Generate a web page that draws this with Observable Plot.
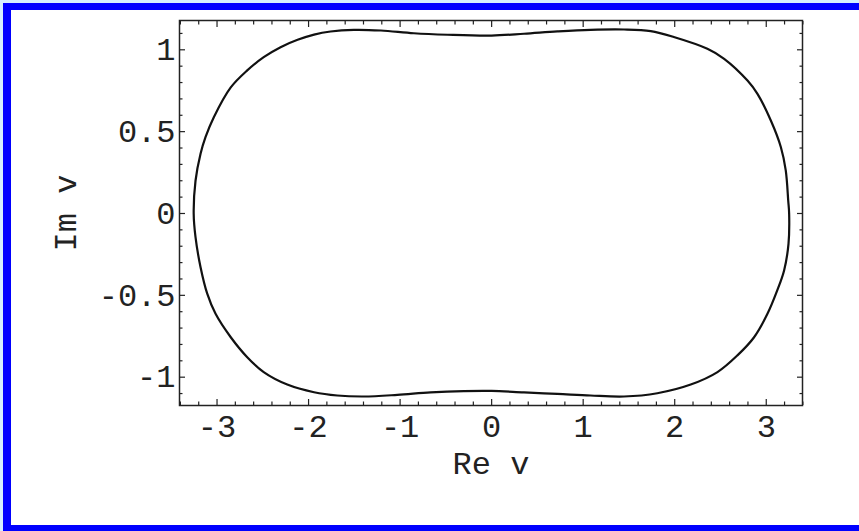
<!DOCTYPE html>
<html>
<head>
<meta charset="utf-8">
<script src="https://cdn.jsdelivr.net/npm/d3@7"></script>
<script src="https://cdn.jsdelivr.net/npm/@observablehq/plot@0.6"></script>
<style>
  html, body { margin: 0; padding: 0; overflow: hidden; background: #d6efff; width: 859px; height: 531px; }
  #border { position: absolute; left: 3px; top: 3px; width: 848px; height: 515px; background: #fff;
            border-left: 8px solid #0000ff; border-top: 7px solid #0000ff; border-bottom: 6px solid #0000ff; }
  #chart { position: absolute; left: 0; top: 0; }
</style>
</head>
<body>
<div id="border"></div>
<div id="chart"></div>
<script>
// Curve points (Re v, Im v), traced counter-clockwise from the right-hand extreme
const reV = [3.25, 3.24, 3.213, 3.16, 3.05, 2.904, 2.795, 2.54, 2.357, 1.99, 1.738, 1.446, 1.08, 0.718, 0.353, 0,
  -0.48, -0.85, -1.21, -1.505, -1.76, -1.94, -2.12, -2.306, -2.49, -2.67, -2.85, -3.035, -3.126, -3.18, -3.235, -3.255,
  -3.235, -3.18, -3.107, -3.016, -2.85, -2.67, -2.49, -2.233, -1.94, -1.686, -1.396, -1.03, -0.667, -0.303, 0,
  0.353, 0.718, 1.08, 1.446, 1.81, 2.175, 2.467, 2.685, 2.867, 3.013, 3.12, 3.195, 3.243];
const imV = [0, 0.079, 0.263, 0.405, 0.568, 0.731, 0.812, 0.945, 1.006, 1.078, 1.114, 1.124, 1.122, 1.112, 1.098, 1.087,
  1.092, 1.101, 1.118, 1.122, 1.112, 1.093, 1.061, 1.016, 0.955, 0.874, 0.77, 0.588, 0.466, 0.365, 0.2, 0,
  -0.145, -0.328, -0.49, -0.613, -0.756, -0.878, -0.969, -1.045, -1.092, -1.112, -1.118, -1.108, -1.093, -1.085, -1.084,
  -1.093, -1.102, -1.112, -1.118, -1.098, -1.045, -0.969, -0.867, -0.756, -0.613, -0.47, -0.348, -0.185];

const xMajorTicks = [-3, -2, -1, 0, 1, 2, 3];
const xMinorTicks = [-3.4, -3.2, -2.8, -2.6, -2.4, -2.2, -1.8, -1.6, -1.4, -1.2, -0.8, -0.6, -0.4, -0.2,
  0.2, 0.4, 0.6, 0.8, 1.2, 1.4, 1.6, 1.8, 2.2, 2.4, 2.6, 2.8, 3.2, 3.4];
const yMajorTicks = [-1, -0.5, 0, 0.5, 1];
const yMinorTicks = [-1.1, -0.9, -0.8, -0.7, -0.6, -0.4, -0.3, -0.2, -0.1, 0.1, 0.2, 0.3, 0.4, 0.6, 0.7, 0.8, 0.9, 1.1];
const xLabel = "Re v";
const yLabel = "Im v";

const points = reV.map((r, i) => ({re: r, im: imV[i]}));
const FONT = "'Liberation Mono', 'Courier New', monospace";
const FS = 32;
const INK = "#222";
const fmt = d => String(d);
const tickStyle = {text: null, label: null, stroke: INK, strokeWidth: 1.2};

const plot = Plot.plot({
  width: 859,
  height: 531,
  marginLeft: 179,
  marginRight: 57,
  marginTop: 20,
  marginBottom: 126,
  style: {background: "transparent", fontFamily: FONT, fontSize: FS + "px", color: INK},
  x: {domain: [-3.41, 3.396], axis: null},
  y: {domain: [-1.173, 1.179], axis: null},
  marks: [
    // tick marks, pointing inward on all four sides
    Plot.axisX(xMajorTicks, {anchor: "bottom", tickSize: -6, ...tickStyle}),
    Plot.axisX(xMinorTicks, {anchor: "bottom", tickSize: -3.5, ...tickStyle}),
    Plot.axisX(xMajorTicks, {anchor: "top", tickSize: -6, ...tickStyle}),
    Plot.axisX(xMinorTicks, {anchor: "top", tickSize: -3.5, ...tickStyle}),
    Plot.axisY(yMajorTicks, {anchor: "left", tickSize: -6, ...tickStyle}),
    Plot.axisY(yMinorTicks, {anchor: "left", tickSize: -3.5, ...tickStyle}),
    Plot.axisY(yMajorTicks, {anchor: "right", tickSize: -6, ...tickStyle}),
    Plot.axisY(yMinorTicks, {anchor: "right", tickSize: -3.5, ...tickStyle}),
    // tick labels
    Plot.axisX(xMajorTicks, {anchor: "bottom", tickSize: 0, tickPadding: 9, tickFormat: fmt, label: null,
      fontSize: FS, fill: INK}),
    Plot.axisY(yMajorTicks, {anchor: "left", tickSize: 0, tickPadding: 4, tickFormat: fmt, label: null,
      fontSize: FS, fill: INK}),
    // axis titles
    Plot.text([xLabel], {frameAnchor: "bottom", dy: 58, textAnchor: "middle", lineAnchor: "middle", fontSize: FS, fill: INK}),
    Plot.text([yLabel], {frameAnchor: "left", dx: -114, rotate: -90, textAnchor: "middle", lineAnchor: "middle", fontSize: FS, fill: INK}),
    Plot.frame({stroke: INK, strokeWidth: 1.5}),
    Plot.line(points, {x: "re", y: "im", curve: "catmull-rom-closed", stroke: "#111", strokeWidth: 2.2})
  ]
});
document.getElementById("chart").appendChild(plot);
</script>
</body>
</html>
